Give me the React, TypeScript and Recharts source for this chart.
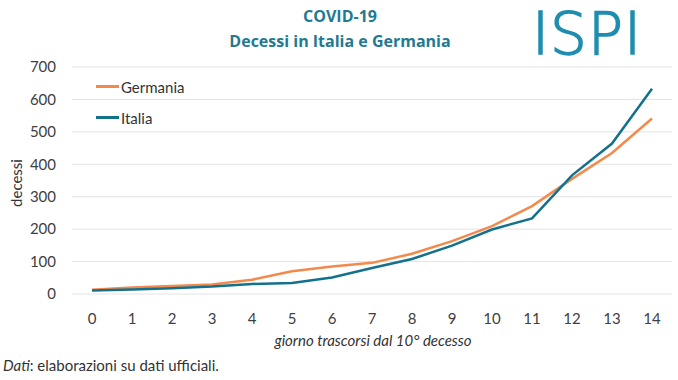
import React from 'react';
import {
  LineChart, Line, CartesianGrid, XAxis, YAxis,
} from 'recharts';

const days = ['0', '1', '2', '3', '4', '5', '6', '7', '8', '9', '10', '11', '12', '13', '14'];
const germania = [13, 20, 25, 29, 44, 70, 85, 96, 124, 163, 209, 271, 355, 435, 541];
const italia = [11, 14, 18, 23, 31, 34, 51, 80, 108, 149, 199, 233, 366, 464, 633];
const yTicks = [0, 100, 200, 300, 400, 500, 600, 700];

const ORANGE = '#f4894c';
const TEAL = '#14718c';
const FONT = 'Lato, "Open Sans", sans-serif';

const data = days.map((d, i) => ({ day: d, Germania: germania[i], Italia: italia[i] }));

const legendItems = [
  { name: 'Germania', color: ORANGE },
  { name: 'Italia', color: TEAL },
];

function LegendBox() {
  return (
    <div style={{ position: 'absolute', left: 96, top: 71, fontFamily: FONT, fontSize: 15, color: '#333' }}>
      {legendItems.map((it) => (
        <div key={it.name} style={{ display: 'flex', alignItems: 'center', height: 31 }}>
          <span style={{ display: 'inline-block', width: 23, height: 3, background: it.color, marginRight: 2 }} />
          <span>{it.name}</span>
        </div>
      ))}
    </div>
  );
}

export default function App() {
  return (
    <div style={{ position: 'absolute', left: 0, top: 0, width: 678, height: 380, background: '#fff' }}>
      <LineChart width={678} height={380} data={data} margin={{ top: 67, right: 6, bottom: 56, left: 0 }}>
        <CartesianGrid vertical={false} stroke="#e3e3e3" />
        <XAxis
          dataKey="day"
          scale="band"
          axisLine={false}
          tickLine={false}
          tickSize={0}
          tickMargin={19}
          height={30}
          interval={0}
          tick={{ fontFamily: FONT, fontSize: 15, fill: '#404040' }}
        />
        <YAxis
          domain={[0, 700]}
          ticks={yTicks}
          axisLine={false}
          tickLine={false}
          tickSize={0}
          tickMargin={16}
          width={72}
          tick={{ fontFamily: FONT, fontSize: 15, fill: '#404040' }}
        />
        <Line dataKey="Germania" stroke={ORANGE} strokeWidth={2.5} dot={false} isAnimationActive={false} />
        <Line dataKey="Italia" stroke={TEAL} strokeWidth={2.5} dot={false} isAnimationActive={false} />
      </LineChart>
      <LegendBox />
      <div
        style={{
          position: 'absolute',
          left: 532,
          top: 0,
          fontSize: 58,
          lineHeight: 'normal',
          fontFamily: '"DejaVu Sans", sans-serif',
          fontWeight: 200,
          color: '#1f8db0',
          WebkitTextStroke: '1.5px #1f8db0',
          letterSpacing: 1,
          whiteSpace: 'nowrap',
        }}
      >
        ISPI
      </div>
      <svg width={678} height={380} style={{ position: 'absolute', left: 0, top: 0, pointerEvents: 'none' }}>
        <text x={340} y={22} textAnchor="middle" fontFamily='"Open Sans", sans-serif' fontWeight={700} fontSize={16} fill="#1f7a92">
          COVID-19
        </text>
        <text x={340} y={47} textAnchor="middle" fontFamily='"Open Sans", sans-serif' fontWeight={700} fontSize={16} fill="#1f7a92">
          Decessi in Italia e Germania
        </text>
        <text
          transform="translate(22,183) rotate(-90)"
          textAnchor="middle"
          fontFamily={FONT}
          fontSize={15}
          fill="#333"
        >
          decessi
        </text>
        <text x={373} y={346} textAnchor="middle" fontFamily={FONT} fontStyle="italic" fontSize={15} fill="#333">
          giorno trascorsi dal 10° decesso
        </text>
        <text x={3} y={371} fontFamily={FONT} fontSize={15} fill="#333">
          <tspan fontStyle="italic">Dati</tspan>: elaborazioni su dati ufficiali.
        </text>
      </svg>
    </div>
  );
}
